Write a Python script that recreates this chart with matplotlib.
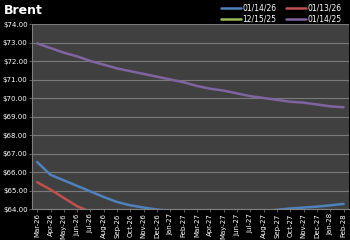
import matplotlib
matplotlib.use("Agg")
import matplotlib.pyplot as plt
import numpy as np

months = ["Mar-26", "Apr-26", "May-26", "Jun-26", "Jul-26", "Aug-26", "Sep-26", "Oct-26",
          "Nov-26", "Dec-26", "Jan-27", "Feb-27", "Mar-27", "Apr-27", "May-27", "Jun-27",
          "Jul-27", "Aug-27", "Sep-27", "Oct-27", "Nov-27", "Dec-27", "Jan-28", "Feb-28"]

# curve dated 01/14/26 (blue)
blue = [66.54, 65.85, 65.55, 65.25, 64.95, 64.65, 64.38, 64.2, 64.08, 63.97, 63.9, 63.82,
        63.76, 63.72, 63.7, 63.72, 63.78, 63.85, 63.96, 64.03, 64.08, 64.13, 64.2, 64.28]
# curve dated 01/13/26 (red)
red = [65.45, 65.05, 64.6, 64.15, 63.85, 63.6, 63.4, 63.25, 63.1, 63.0, 62.9, 62.85,
       62.8, 62.75, 62.7, 62.7, 62.7, 62.72, 62.75, 62.8, 62.85, 62.9, 62.95, 63.0]
# curve dated 12/15/25 (green) - sits below the visible range
green = [61.5, 61.3, 61.2, 61.1, 61.0, 61.0, 61.0, 61.0, 61.05, 61.1, 61.1, 61.15,
         61.2, 61.25, 61.3, 61.35, 61.4, 61.45, 61.5, 61.55, 61.6, 61.65, 61.7, 61.75]
# curve dated 01/14/25 (purple)
purple = [72.95, 72.7, 72.45, 72.25, 72.0, 71.8, 71.6, 71.45, 71.3, 71.15, 71.0, 70.85,
          70.65, 70.5, 70.4, 70.25, 70.1, 70.0, 69.9, 69.8, 69.75, 69.65, 69.55, 69.5]

series = [("01/14/26", blue, "#4F81BD"),
          ("01/13/26", red, "#C0504D"),
          ("12/15/25", green, "#9BBB59"),
          ("01/14/25", purple, "#8064A2")]

fig = plt.figure(figsize=(3.5, 2.4), dpi=100, facecolor="black")
ax = fig.add_axes([0.091, 0.129, 0.906, 0.771])
ax.set_facecolor("#404040")

x = np.arange(len(months))
lines = []
for label, vals, col in series:
    ln, = ax.plot(x, vals, color=col, lw=1.8, label=label, solid_capstyle="round")
    lines.append(ln)

ax.set_ylim(64, 74)
ax.set_yticks(np.arange(64, 75, 1))
ax.set_yticklabels(["${:.2f}".format(v) for v in np.arange(64, 75, 1)])
ax.set_xlim(-0.4, len(months) - 0.6)
ax.set_xticks(x)
ax.set_xticklabels(months, rotation=90)

ax.grid(axis="y", color="#7a7a7a", lw=0.8)
ax.set_axisbelow(True)
for s in ["top", "right"]:
    ax.spines[s].set_visible(False)
ax.spines["left"].set_color("#808080")
ax.spines["bottom"].set_color("#808080")
ax.tick_params(labelsize=5, length=2, width=0.5, pad=1)
ax.tick_params(axis="x", colors="#808080", labelcolor="white")
ax.tick_params(axis="y", colors="#808080", labelcolor="white")

fig.text(0.01, 0.955, "Brent", color="white", fontsize=9, fontweight="bold", va="center")

# legend fills column-wise, so order handles to read row-wise like the original
order = [0, 2, 1, 3]
fig.legend([lines[i] for i in order], [series[i][0] for i in order],
           loc="upper right", bbox_to_anchor=(0.995, 1.015), ncol=2, frameon=False,
           fontsize=5.5, labelcolor="white", handlelength=2.6, handletextpad=0.2,
           columnspacing=1.2, labelspacing=0.25)

fig.savefig("out.png", dpi=100, facecolor="black")
